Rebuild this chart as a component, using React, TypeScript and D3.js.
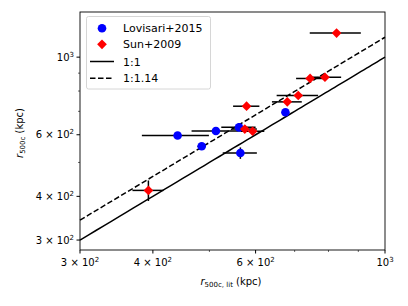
import React, { useEffect, useRef } from "react"
import * as d3 from "d3"

// Lovisari+2015
const lovX = [441, 485, 513, 562, 565, 675]
const lovY = [597, 556, 615, 630, 532, 696]
const lovXErr = [58, 8, 47, 38, 38, 8]
const lovYErr = [12, 8, 10, 18, 20, 8]

// Sun+2009
const sunX = [393, 579, 575, 593, 680, 710, 744, 789, 826]
const sunY = [416, 724, 623, 614, 745, 777, 869, 876, 1172]
const sunXErr = [24, 30, 28, 28, 40, 58, 40, 52, 83]
const sunYErr = [28, 8, 15, 15, 8, 8, 8, 8, 10]

const xTicks = [300, 400, 600, 1000]
const yTicks = [300, 400, 600, 1000]
const minorTicks = [500, 700, 800, 900]
const tickText = ["3 × 10", "4 × 10", "6 × 10", "10"]
const tickExp = ["2", "2", "2", "3"]

const W = 408
const H = 306
const FONT = "DejaVu Sans, sans-serif"

const App = () => {
	const svgRef = useRef<SVGSVGElement>(null)

	useEffect(() => {
		const margin = { top: 12, right: 23, bottom: 56, left: 80 }
		const svg = d3.select(svgRef.current)
		svg.selectAll("*").remove()

		const x = d3
			.scaleLog()
			.domain([300, 1000])
			.range([margin.left, W - margin.right])
		const y = d3
			.scaleLog()
			.domain([281, 1346])
			.range([H - margin.bottom, margin.top])

		const g = svg.append("g")

		// reference lines
		const lineData = d3.range(300, 1001, 10)
		const line = (k) =>
			d3
				.line()
				.x((d) => x(d))
				.y((d) => y(d * k))
		g.append("path")
			.attr("d", line(1)(lineData))
			.attr("fill", "none")
			.attr("stroke", "black")
			.attr("stroke-width", 1.5)
		g.append("path")
			.attr("d", line(1.14)(lineData.filter((d) => d * 1.14 <= 1346)))
			.attr("fill", "none")
			.attr("stroke", "black")
			.attr("stroke-width", 1.5)
			.attr("stroke-dasharray", "5.5,2.5")

		const drawErr = (xs, ys, xe, ye) => {
			xs.forEach((v, i) => {
				g.append("line")
					.attr("x1", x(v - xe[i]))
					.attr("x2", x(v + xe[i]))
					.attr("y1", y(ys[i]))
					.attr("y2", y(ys[i]))
					.attr("stroke", "black")
					.attr("stroke-width", 1.5)
				g.append("line")
					.attr("x1", x(v))
					.attr("x2", x(v))
					.attr("y1", y(ys[i] - ye[i]))
					.attr("y2", y(ys[i] + ye[i]))
					.attr("stroke", "black")
					.attr("stroke-width", 1.5)
			})
		}
		drawErr(lovX, lovY, lovXErr, lovYErr)
		drawErr(sunX, sunY, sunXErr, sunYErr)

		g.selectAll(".lov")
			.data(lovX)
			.join("circle")
			.attr("cx", (d) => x(d))
			.attr("cy", (d, i) => y(lovY[i]))
			.attr("r", 4.3)
			.attr("fill", "blue")

		const diamond = d3.symbol().type(d3.symbolDiamond2).size(60)
		g.selectAll(".sun")
			.data(sunX)
			.join("path")
			.attr("d", diamond())
			.attr("transform", (d, i) => `translate(${x(d)},${y(sunY[i])})`)
			.attr("fill", "red")

		// frame
		svg.append("rect")
			.attr("x", margin.left)
			.attr("y", margin.top)
			.attr("width", W - margin.right - margin.left)
			.attr("height", H - margin.bottom - margin.top)
			.attr("fill", "none")
			.attr("stroke", "black")
			.attr("stroke-width", 0.9)

		// ticks
		const bottom = H - margin.bottom
		xTicks.forEach((t, i) => {
			svg.append("line")
				.attr("x1", x(t))
				.attr("x2", x(t))
				.attr("y1", bottom)
				.attr("y2", bottom + 3.5)
				.attr("stroke", "black")
			const tx = svg
				.append("text")
				.attr("x", x(t))
				.attr("y", bottom + 16)
				.attr("text-anchor", "middle")
				.attr("font-family", FONT)
				.attr("font-size", 10)
			tx.append("tspan").text(tickText[i])
			tx.append("tspan").attr("dy", -4).attr("font-size", 7).text(tickExp[i])
		})
		minorTicks.forEach((t) => {
			svg.append("line")
				.attr("x1", x(t))
				.attr("x2", x(t))
				.attr("y1", bottom)
				.attr("y2", bottom + 2)
				.attr("stroke", "black")
				.attr("stroke-width", 0.6)
			svg.append("line")
				.attr("x1", margin.left)
				.attr("x2", margin.left - 2)
				.attr("y1", y(t))
				.attr("y2", y(t))
				.attr("stroke", "black")
				.attr("stroke-width", 0.6)
		})
		yTicks.forEach((t, i) => {
			svg.append("line")
				.attr("x1", margin.left)
				.attr("x2", margin.left - 3.5)
				.attr("y1", y(t))
				.attr("y2", y(t))
				.attr("stroke", "black")
			const ty = svg
				.append("text")
				.attr("x", margin.left - 6)
				.attr("y", y(t) + 3.5)
				.attr("text-anchor", "end")
				.attr("font-family", FONT)
				.attr("font-size", 10)
			ty.append("tspan").text(tickText[i])
			ty.append("tspan").attr("dy", -4).attr("font-size", 7).text(tickExp[i])
		})

		// axis labels
		const xl = svg
			.append("text")
			.attr("x", 231)
			.attr("y", 285)
			.attr("text-anchor", "middle")
			.attr("font-family", FONT)
			.attr("font-size", 10)
		xl.append("tspan").attr("font-style", "italic").text("r")
		xl.append("tspan").attr("font-size", 7).attr("dy", 2).text("500c, lit")
		xl.append("tspan").attr("dy", -2).text(" (kpc)")

		const yl = svg
			.append("text")
			.attr("transform", "translate(23,133) rotate(-90)")
			.attr("text-anchor", "middle")
			.attr("font-family", FONT)
			.attr("font-size", 10)
		yl.append("tspan").attr("font-style", "italic").text("r")
		yl.append("tspan").attr("font-size", 7).attr("dy", 2).text("500c")
		yl.append("tspan").attr("dy", -2).text(" (kpc)")

		// legend
		const lg = svg.append("g")
		lg.append("rect")
			.attr("x", 86.5)
			.attr("y", 16.5)
			.attr("width", 124)
			.attr("height", 72.5)
			.attr("rx", 2)
			.attr("fill", "white")
			.attr("fill-opacity", 0.8)
			.attr("stroke", "#cccccc")
			.attr("stroke-width", 0.8)
		const rows = [28.3, 44.3, 61.5, 78.3]
		lg.append("circle").attr("cx", 102).attr("cy", rows[0]).attr("r", 4.3).attr("fill", "blue")
		lg.append("path")
			.attr("d", diamond())
			.attr("transform", `translate(102,${rows[1]})`)
			.attr("fill", "red")
		lg.append("line")
			.attr("x1", 90)
			.attr("x2", 114)
			.attr("y1", rows[2])
			.attr("y2", rows[2])
			.attr("stroke", "black")
			.attr("stroke-width", 1.5)
		lg.append("line")
			.attr("x1", 90)
			.attr("x2", 114)
			.attr("y1", rows[3])
			.attr("y2", rows[3])
			.attr("stroke", "black")
			.attr("stroke-width", 1.5)
			.attr("stroke-dasharray", "5.5,2.5")
		const labels = ["Lovisari+2015", "Sun+2009", "1:1", "1:1.14"]
		labels.forEach((l, i) => {
			lg.append("text")
				.attr("x", 123)
				.attr("y", rows[i] + 4)
				.attr("font-family", FONT)
				.attr("font-size", 11)
				.text(l)
		})
	}, [])

	return (
		<svg
			ref={svgRef}
			width={W}
			height={H}
			style={{ position: "absolute", left: 0, top: 0, background: "white" }}
		/>
	)
}

export default App
